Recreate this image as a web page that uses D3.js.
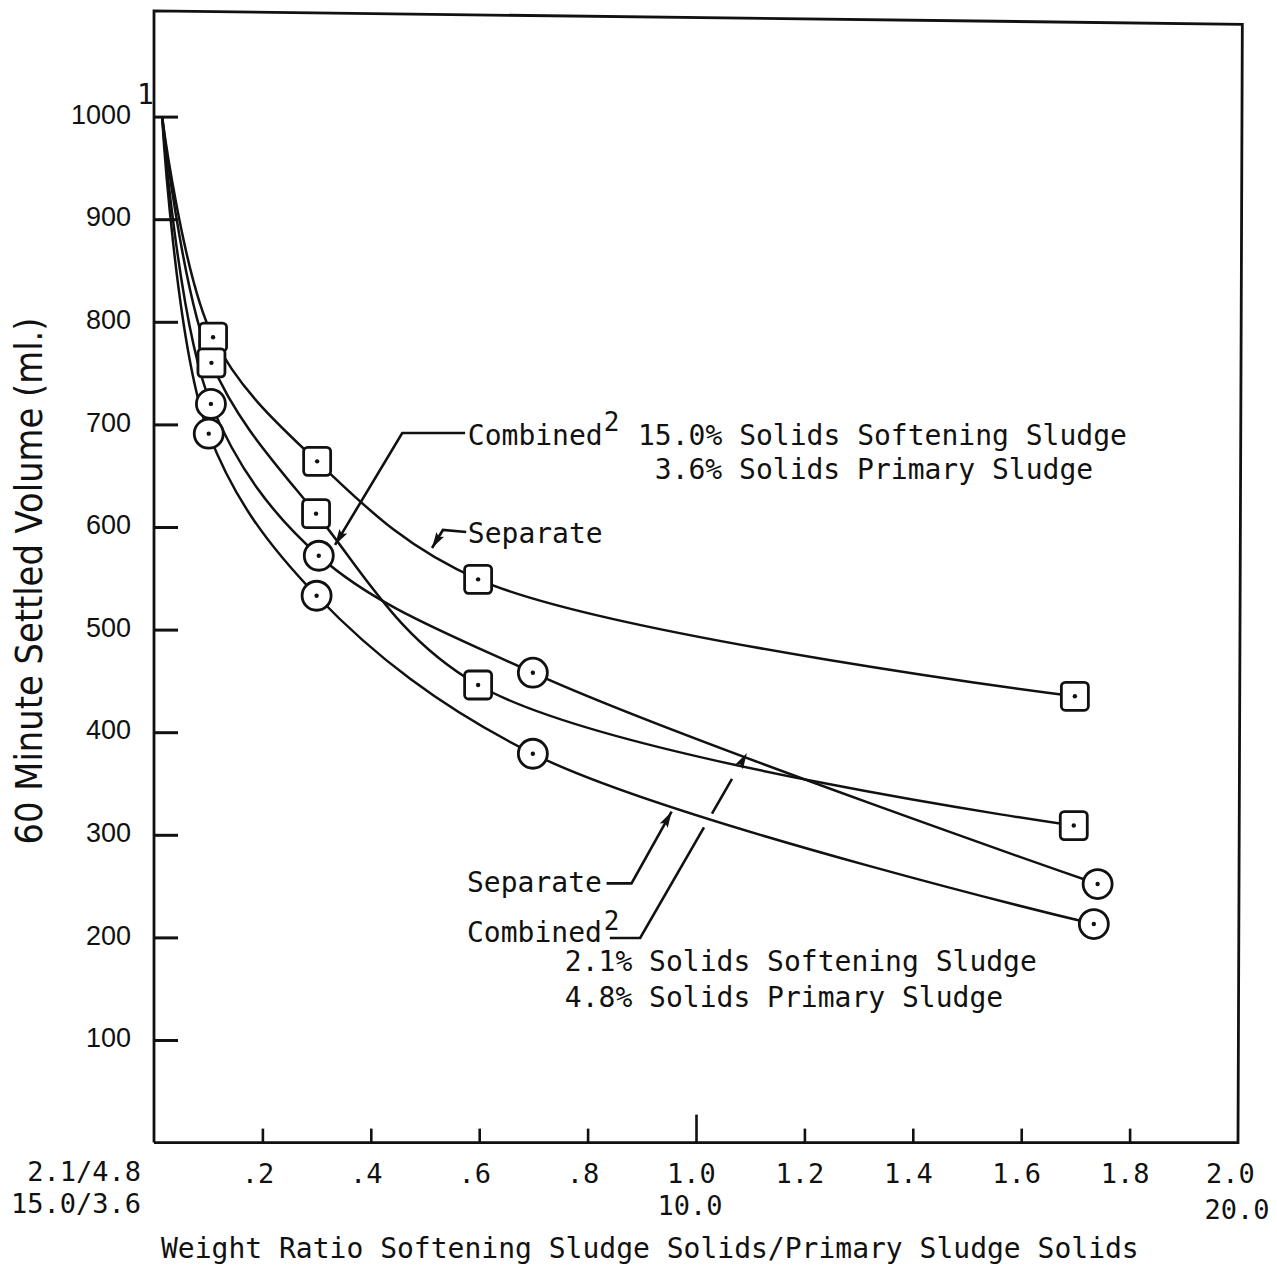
<!DOCTYPE html>
<meta charset="utf-8">
<style>
  body {
    margin: 0;
    background-color: #fff;
  }
  .mono {
    font-family: "DejaVu Sans Mono", monospace;
    fill: #111;
  }
</style>

<script src="https://d3js.org/d3.v7.min.js"></script>
<script>window.d3 || document.write('<script src="https://cdn.jsdelivr.net/npm/d3@7"><\/script>')</script>
<script>window.d3 || document.write('<script src="https://unpkg.com/d3@7"><\/script>')</script>

<body>
<script>

// y axis ticks
var Y_TICKS = [100, 200, 300, 400, 500, 600, 700, 800, 900, 1000]

// x axis ticks and their labels
var X_TICKS = [0.2, 0.4, 0.6, 0.8, 1.0, 1.2, 1.4, 1.6, 1.8, 2.0]
var X_LABELS = [".2", ".4", ".6", ".8", "1.0", "1.2", "1.4", "1.6", "1.8", "2.0"]
var X_SUB_TICKS = [1.0, 2.0]
var X_SUB_LABELS = ["10.0", "20.0"]
var ORIGIN_LABELS = ["2.1/4.8", "15.0/3.6"]

// 15.0% softening / 3.6% primary (squares)
var sq_sep_x = [0.015, 0.109, 0.301, 0.598, 1.699]
var sq_sep_y = [1000, 785, 664, 549, 435]
var sq_comb_x = [0.015, 0.106, 0.299, 0.598, 1.697]
var sq_comb_y = [1000, 760, 613, 446, 309]

// 2.1% softening / 4.8% primary (circles)
var ci_comb_x = [0.015, 0.105, 0.304, 0.699, 1.741]
var ci_comb_y = [1000, 720, 572, 458, 252]
var ci_sep_x = [0.015, 0.101, 0.300, 0.699, 1.734]
var ci_sep_y = [1000, 691, 533, 379, 213]

var SERIES = [
  {x: sq_sep_x, y: sq_sep_y, mark: "square"},
  {x: sq_comb_x, y: sq_comb_y, mark: "square"},
  {x: ci_comb_x, y: ci_comb_y, mark: "circle"},
  {x: ci_sep_x, y: ci_sep_y, mark: "circle"}
]

var W = 1277, H = 1283

var x = d3.scaleLinear().domain([0, 2]).range([154, 1238])
var y = d3.scaleLinear().domain([0, 1000]).range([1142.6, 116.6])

var svg = d3.select("body")
    .append("svg")
    .attr("width", W)
    .attr("height", H)

var defs = svg.append("defs")
defs.append("marker")
    .attr("id", "arrow")
    .attr("markerUnits", "userSpaceOnUse")
    .attr("markerWidth", 18)
    .attr("markerHeight", 10)
    .attr("refX", 16)
    .attr("refY", 4.5)
    .attr("orient", "auto")
  .append("path")
    .attr("d", "M0,0 L16,4.5 L0,9 L3,4.5 Z")
    .attr("fill", "#111")

// frame (the scan is slightly skewed at the top)
svg.append("path")
    .attr("d", d3.line()([
      [x(0), y(0)], [x(0), y(1103)], [x(2.008), y(1090)], [x(2), y(0)], [x(0), y(0)]
    ]))
    .attr("fill", "none")
    .attr("stroke", "#111")
    .attr("stroke-width", 2.8)

// y axis: ticks point inward
var yAxis = svg.append("g")
    .attr("transform", "translate(" + x(0) + ",0)")
    .call(d3.axisLeft(y)
      .tickValues(Y_TICKS)
      .tickFormat(d3.format("d"))
      .tickSizeInner(-24)
      .tickSizeOuter(0)
      .tickPadding(23))
yAxis.select(".domain").remove()
yAxis.selectAll("line").attr("stroke", "#111").attr("stroke-width", 3)
yAxis.selectAll("text")
    .attr("font-family", "Liberation Sans, Arial, sans-serif")
    .attr("font-size", 27)
    .attr("fill", "#111")
    .attr("dy", "0.25em")

// footnote mark on 1000
svg.append("text")
    .attr("class", "mono")
    .attr("x", x(0) - 17)
    .attr("y", y(1000) - 13)
    .attr("font-size", 28)
    .text("1")

// x axis: ticks point upward
var xAxis = svg.append("g")
    .attr("transform", "translate(0," + y(0) + ")")
    .call(d3.axisBottom(x)
      .tickValues(X_TICKS)
      .tickFormat(function(d, i) { return X_LABELS[i] })
      .tickSizeInner(-14)
      .tickSizeOuter(0)
      .tickPadding(21))
xAxis.select(".domain").remove()
xAxis.selectAll("line").attr("stroke", "#111").attr("stroke-width", 2.6)
xAxis.selectAll(".tick").filter(function(d) { return d === 1.0 })
    .select("line").attr("y2", -28)
xAxis.selectAll(".tick").filter(function(d) { return d === 2.0 })
    .select("line").remove()
xAxis.selectAll("text")
    .attr("class", "mono")
    .attr("font-family", null)
    .attr("font-size", 27)
    .attr("fill", "#111")
    .attr("x", function(d) { return d === 2.0 ? -8 : -5 })

X_SUB_TICKS.forEach(function(v, i) {
  svg.append("text")
      .attr("class", "mono")
      .attr("x", x(v) + (i === 1 ? -1 : -6))
      .attr("y", y(0) + (i === 1 ? 76 : 72))
      .attr("text-anchor", "middle")
      .attr("font-size", 27)
      .text(X_SUB_LABELS[i])
})

ORIGIN_LABELS.forEach(function(t, i) {
  svg.append("text")
      .attr("class", "mono")
      .attr("x", x(0) - 13)
      .attr("y", y(0) + 38 + i * 32)
      .attr("text-anchor", "end")
      .attr("font-size", 27)
      .text(t)
})

// axis titles
svg.append("text")
    .attr("class", "mono")
    .attr("x", x(0) + 7)
    .attr("y", 1258)
    .attr("font-size", 28)
    .text("Weight Ratio Softening Sludge Solids/Primary Sludge Solids")

svg.append("text")
    .attr("transform", "translate(42,581) rotate(-90)")
    .attr("text-anchor", "middle")
    .attr("font-family", "DejaVu Sans, sans-serif")
    .attr("font-size", 37)
    .attr("textLength", 527)
    .attr("lengthAdjust", "spacingAndGlyphs")
    .attr("fill", "#111")
    .text("60 Minute Settled Volume (ml.)")

// curves
var curveLine = d3.line()
    .x(function(d) { return x(d[0]) })
    .y(function(d) { return y(d[1]) })
    .curve(d3.curveCatmullRom.alpha(0.5))

SERIES.forEach(function(s) {
  var pts = s.x.map(function(v, i) { return [v, s.y[i]] })
  svg.append("path")
      .attr("d", curveLine(pts))
      .attr("fill", "none")
      .attr("stroke", "#111")
      .attr("stroke-width", 2.5)
})

// markers (skip the common starting point)
SERIES.forEach(function(s) {
  var pts = s.x.map(function(v, i) { return [v, s.y[i]] }).slice(1)
  var node = svg.append("g")
      .selectAll("g")
      .data(pts)
      .enter()
      .append("g")
      .attr("transform", function(d) {
        return "translate(" + x(d[0]) + "," + y(d[1]) + ")"
      })
  if (s.mark === "square") {
    node.append("rect")
        .attr("x", -13.5).attr("y", -14)
        .attr("width", 27).attr("height", 28)
        .attr("rx", 4)
        .attr("fill", "#fff")
        .attr("stroke", "#111")
        .attr("stroke-width", 2.8)
  } else {
    node.append("circle")
        .attr("r", 14.5)
        .attr("fill", "#fff")
        .attr("stroke", "#111")
        .attr("stroke-width", 2.8)
  }
  node.append("circle")
      .attr("r", 2.2)
      .attr("fill", "#111")
})

// leader lines for the labels
var leaderTopComb = [[0.574, 691.6], [0.458, 691.6], [0.334, 582.5]]
var leaderTopSep = [[0.576, 595.1], [0.533, 597.1], [0.513, 579.5]]
var leaderBotSep = [[0.835, 252.7], [0.881, 252.7], [0.955, 322.5]]
var leaderBotComb = [[0.841, 199.4], [0.897, 199.4], [1.094, 379.7]]

var straight = d3.line()
    .x(function(d) { return x(d[0]) })
    .y(function(d) { return y(d[1]) })

var leaders = [leaderTopComb, leaderTopSep, leaderBotSep, leaderBotComb]
leaders.forEach(function(l, i) {
  svg.append("path")
      .attr("d", straight(l))
      .attr("fill", "none")
      .attr("stroke", "#111")
      .attr("stroke-width", 2.6)
      .attr("stroke-dasharray", i === 3 ? "158,16,40,30" : null)
      .attr("marker-end", "url(#arrow)")
})

// label texts: [x, y, text, size]
var LABELS = [
  [0.579, 680.1, "Combined", 28],
  [0.830, 694, "2", 26],
  [0.893, 680.1, "15.0% Solids Softening Sludge", 28],
  [0.924, 646.8, "3.6% Solids Primary Sludge", 28],
  [0.579, 584.4, "Separate", 28],
  [0.5775, 244.3, "Separate", 28],
  [0.5775, 195.6, "Combined", 28],
  [0.830, 207.5, "2", 26],
  [0.758, 167.3, "2.1% Solids Softening Sludge", 28],
  [0.758, 132.2, "4.8% Solids Primary Sludge", 28]
]

svg.selectAll(".lbl")
    .data(LABELS)
    .enter()
    .append("text")
    .attr("class", "mono lbl")
    .attr("x", function(d) { return x(d[0]) })
    .attr("y", function(d) { return y(d[1]) })
    .attr("font-size", function(d) { return d[3] })
    .text(function(d) { return d[2] })

</script>
</body>
